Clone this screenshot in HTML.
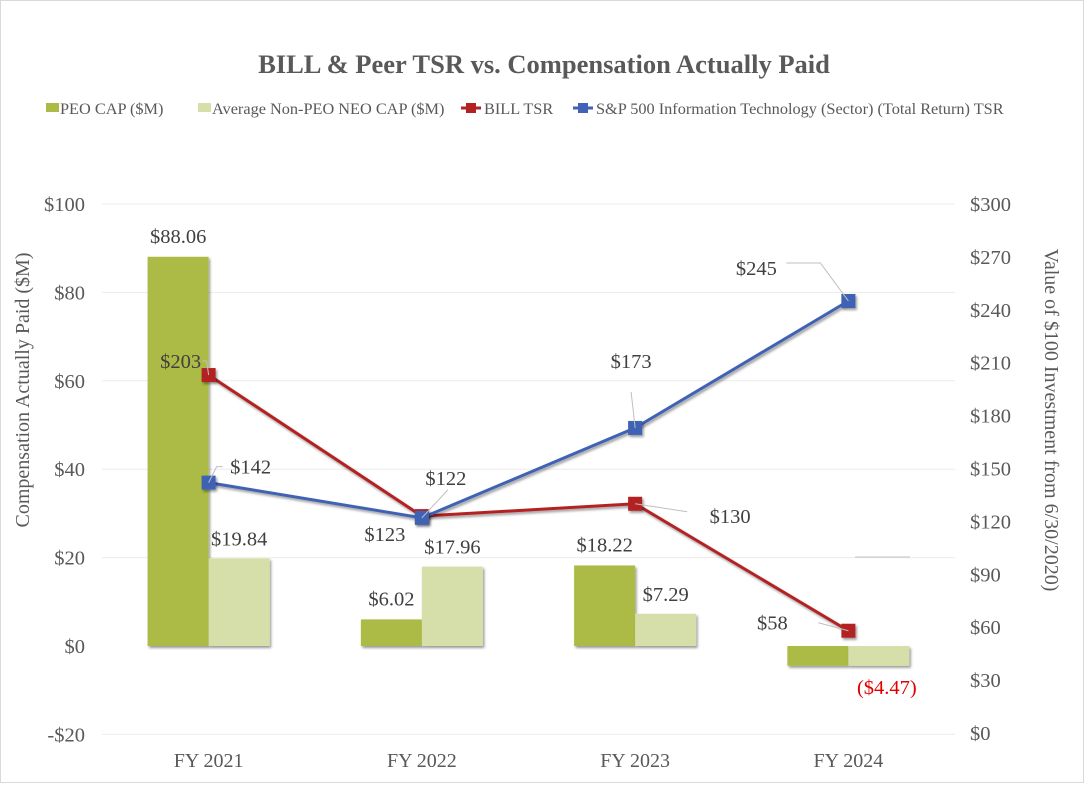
<!DOCTYPE html>
<html><head><meta charset="utf-8">
<style>
body{margin:0;background:#fff;}
#wrap{width:1088px;height:786px;position:relative;overflow:hidden;}
svg text{font-family:"Liberation Serif",serif;}
</style></head>
<body>
<div id="wrap">
<svg id="chart" width="1088" height="786" xmlns="http://www.w3.org/2000/svg">
<rect x="0.5" y="0.5" width="1083" height="782" fill="#fff" stroke="#d9d9d9"/>
<text x="544" y="73" text-anchor="middle" font-size="26.5" font-weight="bold" fill="#595959">BILL &amp; Peer TSR vs. Compensation Actually Paid</text>
<g font-size="16.3" fill="#595959">
 <g><rect x="46" y="103" width="13" height="9" fill="#abbb45"/><text x="60" y="114">PEO CAP ($M)</text></g>
 <g><rect x="198" y="103" width="13" height="9" fill="#d6dfa9"/><text x="212" y="114">Average Non-PEO NEO CAP ($M)</text></g>
 <g><line x1="461" y1="108" x2="481" y2="108" stroke="#b22222" stroke-width="3"/><rect x="466" y="103" width="10" height="10" fill="#b22222"/><text x="484" y="114">BILL TSR</text></g>
 <g><line x1="573" y1="108" x2="593" y2="108" stroke="#4162b5" stroke-width="3"/><rect x="578" y="103" width="10" height="10" fill="#4162b5"/><text x="596" y="114">S&amp;P 500 Information Technology (Sector) (Total Return) TSR</text></g>
</g>
<g id="plot"></g>
<text transform="translate(29,390) rotate(-90)" text-anchor="middle" font-size="20" fill="#595959">Compensation Actually Paid ($M)</text>
<text transform="translate(1045,420) rotate(90)" text-anchor="middle" font-size="20" fill="#595959">Value of $100 Investment from 6/30/2020)</text>
</svg>
</div>
<script>
const categories=["FY 2021","FY 2022","FY 2023","FY 2024"];
const peoCap=[88.06,6.02,18.22,-4.47];
const neoCap=[19.84,17.96,7.29,-4.47];
const billTsr=[203,123,130,58];
const spTsr=[142,122,173,245];
const leftTicks=[-20,0,20,40,60,80,100];
const rightTicks=[0,30,60,90,120,150,180,210,240,270,300];
const peoLabels=["$88.06","$6.02","$18.22","($4.47)"];
const neoLabels=["$19.84","$17.96","$7.29",""];

const NS="http://www.w3.org/2000/svg";
const g=document.getElementById('plot');
const X0=102,X1=955,band=(X1-X0)/categories.length;
const xc=i=>X0+band*(i+0.5);
const yL=v=>646-(v*4.42);
const yR=v=>733-v*(529/300);
function mk(tag,attrs,parent){const e=document.createElementNS(NS,tag);for(const k in attrs)e.setAttribute(k,attrs[k]);(parent||g).appendChild(e);return e;}
function txt(x,y,s,size,fill,anchor){const t=mk('text',{x:x,y:y,'font-size':size,fill:fill,'text-anchor':anchor||'middle'});t.textContent=s;return t;}

const defs=mk('defs',{});
const f=mk('filter',{id:'sh',x:'-20%',y:'-20%',width:'150%',height:'150%'},defs);
mk('feDropShadow',{dx:'1.5',dy:'2',stdDeviation:'1.2','flood-opacity':'0.4'},f);

leftTicks.forEach(v=>{
  if(v!==0){const l=mk('line',{x1:X0,x2:X1,y1:yL(v),y2:yL(v),stroke:'#ececec','stroke-width':1});
  
  }
  const t=txt(85,yL(v)+7,(v<0?'-$'+(-v):'$'+v),20.5,'#595959','end');
  
  
});
rightTicks.forEach(v=>{
  const t=txt(970,yR(v)+7,'$'+v,20.5,'#595959','start');
  
  
});
categories.forEach((c,i)=>{
  const t=txt(xc(i),767,c,20,'#595959');
  
  
});
const bw=61;
categories.forEach((c,i)=>{
  const a=peoCap[i],b=neoCap[i];
  const r1=mk('rect',{x:xc(i)-bw,y:Math.min(yL(a),yL(0)),width:bw,height:Math.abs(yL(a)-yL(0)),fill:'#abbb45',filter:'url(#sh)'});
  
  
  const r2=mk('rect',{x:xc(i),y:Math.min(yL(b),yL(0)),width:bw,height:Math.abs(yL(b)-yL(0)),fill:'#d6dfa9',filter:'url(#sh)'});
  
  
  if(a>=0){const t=txt(xc(i)-bw/2,yL(a)-14,peoLabels[i],20.5,'#404040');
    
    }
  else{const t=txt(xc(i)+bw/2+8,yL(0)+48,peoLabels[i],20.5,'#e00000');
    
    }
  if(neoLabels[i]){const t=txt(xc(i)+bw/2,yL(b)-13,neoLabels[i],20.5,'#404040');
    
    }
});
function series(vals,color,name){
  const pts=vals.map((v,i)=>xc(i)+','+yR(v)).join(' ');
  const p=mk('polyline',{points:pts,fill:'none',stroke:color,'stroke-width':3,filter:'url(#sh)'});
  
  
  vals.forEach((v,i)=>{
    const r=mk('rect',{x:xc(i)-7,y:yR(v)-7,width:14,height:14,fill:color,filter:'url(#sh)'});
    
    
  });
}
series(billTsr,'#b22222','bill-tsr');
series(spTsr,'#4162b5','sp500-tsr');
const billOff=[[-28,-7],[-37,25],[95,19],[-76,-1]];
const spOff=[[42,-9],[24,-33],[-4,-60],[-92,-26]];
billTsr.forEach((v,i)=>{
  const t=txt(xc(i)+billOff[i][0],yR(v)+billOff[i][1],'$'+v,20.5,'#404040');
  
  
});
spTsr.forEach((v,i)=>{
  const t=txt(xc(i)+spOff[i][0],yR(v)+spOff[i][1],'$'+v,20.5,'#404040');
  
  
});
[[xc(0),yR(spTsr[0]),xc(0)+8,yR(spTsr[0])-16,xc(0)+14,yR(spTsr[0])-16],
 [xc(0),yR(billTsr[0]),xc(0)-2,yR(billTsr[0])-14,xc(0)-6,yR(billTsr[0])-14],
 [xc(1),yR(spTsr[1]),xc(1)+26,yR(spTsr[1])-28,xc(1)+26,yR(spTsr[1])-28],
 [xc(2),yR(spTsr[2]),xc(2)-4,yR(spTsr[2])-36,xc(2)-4,yR(spTsr[2])-36],
 [xc(3),yR(spTsr[3]),xc(3)-28,yR(spTsr[3])-38,xc(3)-62,yR(spTsr[3])-38],
 [xc(2),yR(billTsr[2]),xc(2)+52,yR(billTsr[2])+8,xc(2)+52,yR(billTsr[2])+8],
 [xc(3),yR(billTsr[3]),xc(3)-30,yR(billTsr[3])-8,xc(3)-30,yR(billTsr[3])-8],
 [855,557,910,557,910,557]].forEach(a=>{
  const l=mk('polyline',{points:a[0]+','+a[1]+' '+a[2]+','+a[3]+' '+a[4]+','+a[5],fill:'none',stroke:'#bfbfbf','stroke-width':1});
  
  
});
</script>
</body></html>
